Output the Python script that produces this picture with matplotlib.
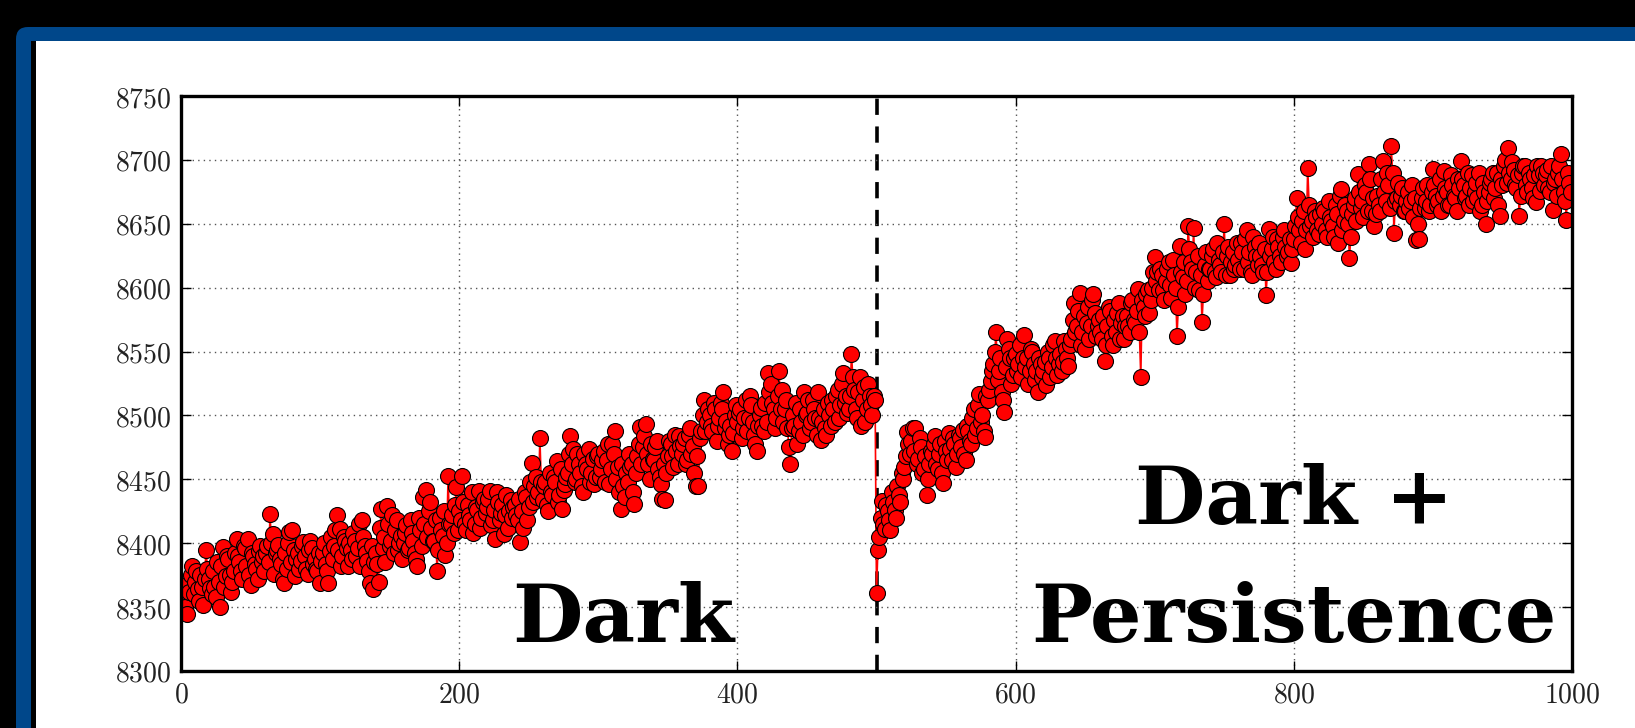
import numpy as np
import matplotlib
matplotlib.use("Agg")
import matplotlib.pyplot as plt
from matplotlib.patches import FancyBboxPatch, Rectangle
from matplotlib.ticker import FuncFormatter, MultipleLocator

# ---------------- data ----------------
# even frames (0, 2, 4, ...) and odd frames (1, 3, 5, ...)
dark_even = [
    8348, 8358, 8345, 8362, 8382, 8370, 8364, 8375, 8352, 8395,
    8372, 8360, 8366, 8385, 8350, 8397, 8374, 8388, 8362, 8378,
    8403, 8385, 8372, 8396, 8403, 8367, 8390, 8380, 8394, 8385,
    8378, 8398, 8423, 8407, 8392, 8399, 8384, 8369, 8380, 8409,
    8410, 8374, 8392, 8386, 8401, 8380, 8395, 8396, 8388, 8378,
    8369, 8392, 8384, 8369, 8405, 8398, 8422, 8411, 8390, 8402,
    8382, 8395, 8408, 8390, 8415, 8418, 8398, 8386, 8369, 8364,
    8392, 8370, 8427, 8405, 8429, 8398, 8422, 8410, 8395, 8406,
    8400, 8414, 8396, 8408, 8392, 8382, 8410, 8436, 8442, 8425,
    8412, 8402, 8378, 8420, 8406, 8391, 8453, 8415, 8408, 8444,
    8425, 8453, 8415, 8430, 8418, 8408, 8428, 8441, 8420, 8435,
    8428, 8441, 8418, 8403, 8432, 8424, 8407, 8438, 8425, 8420,
    8430, 8418, 8401, 8412, 8436, 8428, 8463, 8445, 8436, 8482,
    8434, 8448, 8425, 8440, 8452, 8464, 8438, 8427, 8446, 8455,
    8484, 8474, 8450, 8462, 8445, 8470, 8458, 8448, 8466, 8452,
    8470, 8458, 8472, 8465, 8446, 8478, 8488, 8460, 8427, 8445,
    8455, 8470, 8462, 8431, 8468, 8491, 8475, 8493, 8462, 8478,
    8465, 8480, 8452, 8435, 8434, 8468, 8478, 8460, 8472, 8484,
    8470, 8482, 8465, 8490, 8476, 8445, 8445, 8488, 8512, 8495,
    8500, 8488, 8505, 8492, 8510, 8518, 8496, 8485, 8472, 8500,
    8495, 8505, 8490, 8512, 8498, 8508, 8485, 8472, 8500, 8492,
    8510, 8533, 8525, 8505, 8498, 8535, 8520, 8505, 8490, 8462,
    8500, 8510, 8488, 8495, 8518, 8502, 8490, 8512, 8498, 8518,
    8481, 8505, 8485, 8500, 8512, 8495, 8520, 8508, 8533, 8515,
    8505, 8548, 8520, 8498, 8530, 8512, 8495, 8525, 8508, 8515,
]
dark_odd = [
    8356, 8350, 8368, 8375, 8360, 8378, 8355, 8366, 8372, 8380,
    8365, 8378, 8358, 8370, 8382, 8366, 8390, 8375, 8370, 8392,
    8390, 8378, 8398, 8382, 8375, 8392, 8384, 8372, 8398, 8390,
    8392, 8385, 8400, 8376, 8395, 8388, 8372, 8392, 8400, 8385,
    8395, 8388, 8380, 8398, 8390, 8376, 8402, 8384, 8380, 8392,
    8386, 8400, 8378, 8394, 8388, 8410, 8395, 8382, 8405, 8396,
    8400, 8388, 8402, 8396, 8382, 8405, 8392, 8378, 8398, 8385,
    8384, 8412, 8396, 8385, 8415, 8402, 8392, 8418, 8400, 8388,
    8408, 8395, 8418, 8402, 8388, 8420, 8398, 8415, 8405, 8432,
    8402, 8418, 8395, 8410, 8425, 8400, 8415, 8422, 8430, 8410,
    8418, 8432, 8410, 8422, 8440, 8415, 8426, 8412, 8432, 8424,
    8435, 8414, 8426, 8440, 8418, 8430, 8422, 8412, 8434, 8428,
    8422, 8435, 8425, 8440, 8418, 8448, 8432, 8452, 8440, 8448,
    8445, 8430, 8455, 8438, 8448, 8432, 8458, 8442, 8452, 8470,
    8462, 8448, 8470, 8455, 8440, 8462, 8474, 8455, 8446, 8468,
    8452, 8465, 8448, 8478, 8458, 8470, 8450, 8440, 8462, 8436,
    8448, 8460, 8440, 8455, 8478, 8462, 8484, 8470, 8450, 8466,
    8475, 8458, 8446, 8462, 8455, 8480, 8468, 8485, 8462, 8476,
    8478, 8462, 8485, 8470, 8455, 8468, 8482, 8500, 8488, 8505,
    8492, 8510, 8480, 8498, 8505, 8490, 8478, 8492, 8486, 8508,
    8502, 8482, 8498, 8488, 8515, 8495, 8478, 8492, 8506, 8488,
    8495, 8518, 8510, 8490, 8515, 8505, 8495, 8512, 8475, 8490,
    8492, 8478, 8505, 8485, 8500, 8512, 8495, 8505, 8485, 8498,
    8495, 8490, 8510, 8492, 8505, 8515, 8498, 8525, 8510, 8502,
    8515, 8530, 8505, 8518, 8492, 8522, 8505, 8515, 8500, 8512,
]
persist_even = [
    8361, 8405, 8433, 8411, 8425, 8410, 8432, 8420, 8438, 8455,
    8460, 8487, 8470, 8490, 8490, 8466, 8475, 8458, 8438, 8462,
    8470, 8484, 8458, 8478, 8447, 8472, 8486, 8465, 8478, 8470,
    8482, 8489, 8465, 8488, 8478, 8505, 8490, 8517, 8500, 8483,
    8512, 8527, 8540, 8565, 8535, 8518, 8503, 8560, 8545, 8532,
    8548, 8540, 8530, 8563, 8545, 8535, 8550, 8528, 8518, 8540,
    8535, 8524, 8545, 8538, 8558, 8532, 8548, 8542, 8552, 8539,
    8560, 8588, 8570, 8596, 8565, 8552, 8585, 8570, 8595, 8562,
    8575, 8560, 8543, 8570, 8582, 8555, 8565, 8588, 8572, 8560,
    8578, 8565, 8590, 8572, 8599, 8530, 8585, 8595, 8580, 8600,
    8624, 8612, 8615, 8598, 8605, 8620, 8592, 8610, 8562, 8633,
    8608, 8595, 8648, 8620, 8647, 8612, 8598, 8573, 8618, 8605,
    8615, 8630, 8608, 8622, 8612, 8650, 8625, 8610, 8628, 8618,
    8622, 8635, 8615, 8645, 8628, 8610, 8632, 8618, 8625, 8612,
    8594, 8646, 8630, 8620, 8638, 8625, 8640, 8632, 8628, 8619,
    8638, 8670, 8645, 8652, 8630, 8694, 8648, 8640, 8655, 8642,
    8650, 8660, 8640, 8655, 8648, 8665, 8635, 8677, 8652, 8660,
    8623, 8658, 8670, 8689, 8662, 8655, 8675, 8697, 8660, 8648,
    8672, 8660, 8699, 8668, 8680, 8711, 8643, 8670, 8665, 8678,
    8660, 8675, 8668, 8655, 8637, 8638, 8670, 8662, 8680, 8665,
    8693, 8672, 8668, 8660, 8691, 8675, 8665, 8680, 8670, 8685,
    8699, 8680, 8672, 8665, 8688, 8675, 8670, 8660, 8682, 8650,
    8675, 8685, 8670, 8690, 8656, 8680, 8700, 8709, 8685, 8692,
    8678, 8656, 8690, 8695, 8675, 8685, 8670, 8667, 8688, 8695,
    8680, 8692, 8675, 8661, 8685, 8690, 8705, 8675, 8653, 8682,
]
persist_odd = [
    8395, 8420, 8415, 8430, 8418, 8440, 8426, 8445, 8432, 8450,
    8468, 8478, 8480, 8472, 8462, 8482, 8455, 8468, 8450, 8472,
    8478, 8462, 8470, 8455, 8480, 8465, 8474, 8482, 8460, 8485,
    8475, 8470, 8492, 8480, 8498, 8485, 8508, 8495, 8488, 8515,
    8520, 8535, 8550, 8528, 8545, 8512, 8538, 8552, 8525, 8545,
    8535, 8555, 8545, 8538, 8525, 8552, 8540, 8535, 8545, 8530,
    8542, 8550, 8530, 8555, 8545, 8540, 8535, 8558, 8545, 8555,
    8575, 8565, 8582, 8555, 8578, 8572, 8560, 8590, 8580, 8570,
    8565, 8578, 8555, 8585, 8562, 8575, 8580, 8560, 8578, 8570,
    8570, 8588, 8575, 8582, 8565, 8590, 8578, 8598, 8590, 8612,
    8605, 8598, 8610, 8590, 8615, 8602, 8622, 8600, 8585, 8612,
    8620, 8605, 8630, 8615, 8600, 8625, 8610, 8595, 8628, 8615,
    8625, 8612, 8635, 8618, 8628, 8610, 8632, 8620, 8615, 8635,
    8615, 8628, 8638, 8620, 8612, 8640, 8625, 8635, 8618, 8630,
    8612, 8625, 8640, 8615, 8632, 8620, 8645, 8625, 8638, 8630,
    8648, 8655, 8635, 8660, 8645, 8665, 8652, 8660, 8645, 8658,
    8662, 8645, 8668, 8652, 8640, 8658, 8672, 8645, 8665, 8650,
    8640, 8665, 8652, 8675, 8668, 8680, 8660, 8685, 8670, 8658,
    8665, 8685, 8675, 8690, 8662, 8690, 8668, 8682, 8672, 8660,
    8668, 8662, 8680, 8670, 8650, 8662, 8678, 8668, 8660, 8675,
    8680, 8665, 8685, 8672, 8678, 8665, 8688, 8672, 8660, 8678,
    8685, 8670, 8690, 8678, 8668, 8682, 8690, 8665, 8675, 8668,
    8682, 8690, 8678, 8665, 8685, 8695, 8682, 8690, 8698, 8680,
    8688, 8672, 8695, 8680, 8690, 8678, 8688, 8695, 8676, 8690,
    8688, 8678, 8695, 8682, 8672, 8695, 8685, 8668, 8690, 8675,
]
switch_frame = 500
x_ticks = [0, 200, 400, 600, 800, 1000]
x_range = (0, 1000)
y_range = (8300, 8750)
label_dark = "Dark"
label_persist = ["Dark +", "Persistence"]

even_vals = dark_even + persist_even
odd_vals = dark_odd + persist_odd
values = np.empty(len(even_vals) + len(odd_vals))
values[0::2] = even_vals
values[1::2] = odd_vals
frames = np.arange(len(values))

# ---------------- figure ----------------
W, H = 1635, 728
plt.rcParams["mathtext.fontset"] = "cm"
fig = plt.figure(figsize=(W / 100, H / 100), dpi=100)
fig.patch.set_facecolor("black")

bg = fig.add_axes([0, 0, 1, 1])
bg.set_xlim(0, W)
bg.set_ylim(H, 0)
bg.axis("off")
bg.add_patch(FancyBboxPatch((16, 27), 2000, 1000,
                            boxstyle="round,pad=0,rounding_size=12",
                            fc="#00478A", ec="none"))
bg.add_patch(Rectangle((31, 41), 5, 1000, fc="black", ec="none"))
bg.add_patch(Rectangle((36, 41), 2000, 1000, fc="white", ec="none"))

ax = fig.add_axes([181 / W, 1 - 671 / H, (1572 - 181) / W, (671 - 96) / H])
ax.set_zorder(2)
ax.set_facecolor("white")

ax.axvline(switch_frame, color="black", lw=2.6, linestyle=(0, (4.5, 3.2)), zorder=1.5)
ax.plot(frames, values, "-", color="red", lw=1.2, marker="o", ms=11.5,
        mfc="red", mec="black", mew=0.8, zorder=2)

ax.set_xlim(*x_range)
ax.set_ylim(*y_range)
ax.set_xticks(x_ticks)
ax.yaxis.set_major_locator(MultipleLocator(50))
fmt = FuncFormatter(lambda v, p: f"${v:.0f}$")
ax.xaxis.set_major_formatter(fmt)
ax.yaxis.set_major_formatter(fmt)
ax.tick_params(direction="in", top=True, right=True, length=7, width=1,
               labelsize=20, labelcolor="#222222", pad=7)
ax.grid(True, linestyle=(0, (1, 3)), color="#555555", lw=1)
for s in ax.spines.values():
    s.set_linewidth(2.4)
    s.set_color("black")

txt = dict(family="DejaVu Serif", weight="bold", fontsize=58.5, color="black",
           ha="center", va="baseline", zorder=3)
ax.text(318, 8323, label_dark, **txt)
ax.text(800, 8415, label_persist[0], **txt)
ax.text(800, 8323, label_persist[1], **txt)

fig.savefig("out.png", dpi=100, facecolor=fig.get_facecolor())
